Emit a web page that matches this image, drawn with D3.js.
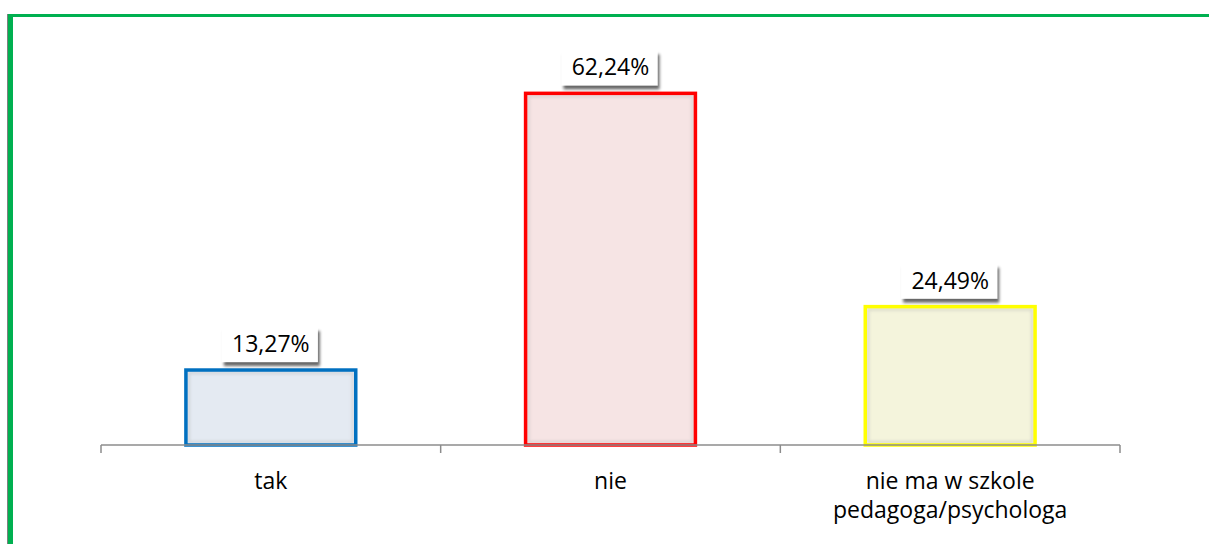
<!DOCTYPE html>
<html>
<head>
<meta charset="utf-8">
<script src="https://cdn.jsdelivr.net/npm/d3@7/dist/d3.min.js"></script>
<style>
html,body{margin:0;padding:0;background:#fff;}
svg{display:block;}
</style>
</head>
<body>
<svg id="chart" width="1209" height="544"></svg>
<script>
const categories = ["tak", "nie", "nie ma w szkole\npedagoga/psychologa"];
const values = [13.27, 62.24, 24.49];
const valueLabels = ["13,27%", "62,24%", "24,49%"];
const fillColors = ["#e4eaf2", "#f6e4e4", "#f4f4dc"];
const strokeColors = ["#0070c0", "#ff0000", "#ffff00"];

const svg = d3.select("#chart");
const W = 1209, H = 544;
const font = "'Open Sans', 'Noto Sans', sans-serif";

const defs = svg.append("defs");
const f = defs.append("filter").attr("id","shadow").attr("x","-20%").attr("y","-20%").attr("width","140%").attr("height","160%");
f.append("feGaussianBlur").attr("in","SourceAlpha").attr("stdDeviation",1.5).attr("result","b");
f.append("feOffset").attr("in","b").attr("dx",2).attr("dy",4).attr("result","o");
f.append("feComponentTransfer").attr("in","o").attr("result","o2").append("feFuncA").attr("type","linear").attr("slope",0.6);
const m = f.append("feMerge");
m.append("feMergeNode").attr("in","o2");
m.append("feMergeNode").attr("in","SourceGraphic");

const ib = defs.append("filter").attr("id","inner").attr("x","-5%").attr("y","-5%").attr("width","110%").attr("height","110%");
ib.append("feGaussianBlur").attr("stdDeviation",1.5);

// green frame
svg.append("rect").attr("x",7).attr("y",14).attr("width",W).attr("height",3).attr("fill","#00b050");
svg.append("rect").attr("x",7).attr("y",14).attr("width",1).attr("height",H).attr("fill","#7f7f7f");
svg.append("rect").attr("x",8).attr("y",14).attr("width",5).attr("height",H).attr("fill","#00b050");

const x = d3.scaleBand().domain(categories).range([101, 1120]).paddingInner(0).paddingOuter(0);
const y = d3.scaleLinear().domain([0, 70]).range([445, 49.5]);

const bw = x.bandwidth() * 0.5;

const g = svg.append("g");

categories.forEach((c, i) => {
  const cx = x(c) + x.bandwidth()/2;
  const x0 = cx - bw/2;
  const top = y(values[i]);
  const h = y(0) - top;
  g.append("rect").attr("x", x0).attr("y", top).attr("width", bw).attr("height", h)
    .attr("fill", fillColors[i]);
  g.append("rect").attr("x", x0+3).attr("y", top+3).attr("width", bw-6).attr("height", h-6)
    .attr("fill","none").attr("stroke","#b0b0b0").attr("stroke-opacity",0.45).attr("stroke-width",2)
    .attr("filter","url(#inner)");
  g.append("rect").attr("x", x0).attr("y", top).attr("width", bw).attr("height", h)
    .attr("fill", "none").attr("stroke", strokeColors[i]).attr("stroke-width", 3.5);
});

// axis
const ax = svg.append("g").attr("transform","translate(0,445)");
ax.append("line").attr("x1",101).attr("x2",1120).attr("y1",0).attr("y2",0).attr("stroke","#8c8c8c").attr("stroke-width",1.5);
const tickPos = categories.map(c => x(c)).concat([x(categories[categories.length-1]) + x.bandwidth()]);
ax.selectAll("line.t").data(tickPos).enter().append("line").attr("class","t")
  .attr("x1",d=>d).attr("x2",d=>d).attr("y1",0).attr("y2",8).attr("stroke","#8c8c8c").attr("stroke-width",1.5);

// category labels
categories.forEach((c) => {
  const lines = c.split("\n");
  const cx = x(c) + x.bandwidth()/2;
  const t = svg.append("text").attr("x", cx).attr("y", 489).attr("text-anchor","middle")
    .attr("font-family", font).attr("font-size", 23).attr("fill","#000");
  lines.forEach((l, j) => {
    t.append("tspan").attr("x", cx).attr("dy", j === 0 ? 0 : 29).text(l);
  });
});

// value labels
categories.forEach((c, i) => {
  const cx = x(c) + x.bandwidth()/2;
  const top = y(values[i]);
  const lg = svg.append("g");
  const bwid = 96, bh = 35;
  lg.append("rect").attr("x", cx - bwid/2 - 1).attr("y", top - bh - 8).attr("width", bwid).attr("height", bh)
    .attr("fill","#fff").attr("filter","url(#shadow)");
  lg.append("text").attr("x", cx).attr("y", top - 18).attr("text-anchor","middle")
    .attr("font-family", font).attr("font-size", 23).attr("fill","#000").text(valueLabels[i]);
});
</script>
</body>
</html>
